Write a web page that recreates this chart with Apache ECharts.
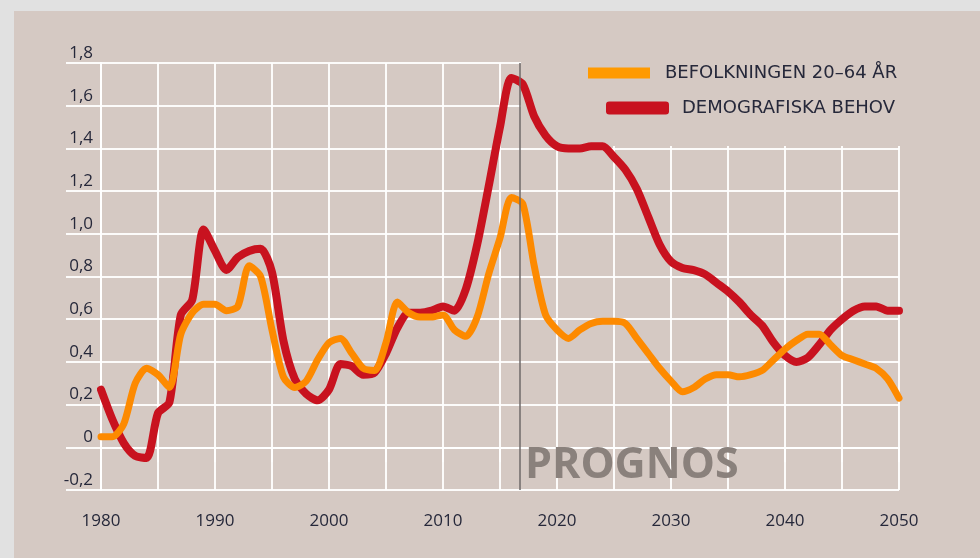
<!DOCTYPE html>
<html>
<head>
<meta charset="utf-8">
<script src="https://cdn.jsdelivr.net/npm/echarts@6/dist/echarts.min.js"></script>
<style>
  html, body { margin: 0; padding: 0; background: #e1e1e1; }
  #wrap { position: absolute; left: 0; top: 0; width: 980px; height: 558px; background: #e1e1e1; }
  #chart { position: absolute; left: 14px; top: 11px; width: 966px; height: 547px; background: #d5c9c3; }
</style>
</head>
<body>
<div id="wrap"><div id="chart"></div></div>
<script>
const years = [];
for (let y = 1980; y <= 2050; y++) years.push(y);

const seriesNames = ['BEFOLKNINGEN 20–64 ÅR', 'DEMOGRAFISKA BEHOV'];

const befolkning = [
  0.05, 0.05, 0.11, 0.30, 0.37, 0.34, 0.28, 0.53, 0.63, 0.67,
  0.67, 0.64, 0.66, 0.85, 0.80, 0.55, 0.33, 0.28, 0.31, 0.41,
  0.49, 0.51, 0.44, 0.37, 0.36, 0.49, 0.68, 0.63, 0.61, 0.61,
  0.62, 0.55, 0.52, 0.61, 0.81, 0.98, 1.17, 1.14, 0.85, 0.62,
  0.55, 0.51, 0.55, 0.58, 0.59, 0.59, 0.58, 0.51, 0.44, 0.37,
  0.31, 0.26, 0.28, 0.32, 0.34, 0.34, 0.33, 0.34, 0.36, 0.41,
  0.46, 0.50, 0.53, 0.53, 0.48, 0.43, 0.41, 0.39, 0.37, 0.32,
  0.23
];

const behov = [
  0.27, 0.13, 0.02, -0.04, -0.05, 0.16, 0.21, 0.62, 0.69, 1.02,
  0.92, 0.83, 0.89, 0.92, 0.93, 0.82, 0.50, 0.32, 0.25, 0.22,
  0.27, 0.39, 0.38, 0.34, 0.35, 0.44, 0.56, 0.63, 0.63, 0.64,
  0.66, 0.64, 0.74, 0.95, 1.22, 1.50, 1.73, 1.70, 1.55, 1.46,
  1.41, 1.40, 1.40, 1.41, 1.41, 1.36, 1.30, 1.21, 1.08, 0.95,
  0.87, 0.84, 0.83, 0.81, 0.77, 0.73, 0.68, 0.62, 0.57, 0.49,
  0.43, 0.40, 0.42, 0.48, 0.55, 0.60, 0.64, 0.66, 0.66, 0.64,
  0.64
];

const prognosYear = 2016.7;
const prognosLabel = 'PROGNOS';
const xLabelYears = [1980, 1990, 2000, 2010, 2020, 2030, 2040, 2050];

const panelColor = '#d5c9c3';
const gridColor = 'rgba(255,255,255,0.92)';
const textColor = '#26283a';
const orange = '#fd8a00';
const red = '#c8121f';

const chart = echarts.init(document.getElementById('chart'), null, { renderer: 'canvas' });

// chart div is offset by (14, 11) inside the page
const OX = 14, OY = 11;

chart.setOption({
  backgroundColor: panelColor,
  animation: false,
  grid: { left: 101 - OX, top: 63 - OY, width: 798, height: 427, containLabel: false },
  xAxis: {
    type: 'value', min: 1980, max: 2050, interval: 5,
    axisLine: { show: true, lineStyle: { color: gridColor, width: 2 } },
    axisTick: { show: true, length: 15, lineStyle: { color: gridColor, width: 2 } },
    splitLine: { show: true, lineStyle: { color: gridColor, width: 2 } },
    axisLabel: {
      margin: 23, color: textColor, fontFamily: 'Open Sans', fontSize: 17,
      formatter: v => (xLabelYears.indexOf(v) >= 0 ? String(v) : '')
    }
  },
  yAxis: {
    type: 'value', min: -0.2, max: 1.8, interval: 0.2,
    axisLine: { show: true, lineStyle: { color: gridColor, width: 2 } },
    axisTick: { show: true, length: 35, lineStyle: { color: gridColor, width: 2 } },
    splitLine: { show: true, lineStyle: { color: gridColor, width: 2 } },
    axisLabel: {
      margin: 8, color: textColor, fontFamily: 'Open Sans', fontSize: 17,
      verticalAlign: 'bottom', align: 'right', lineHeight: 20,
      formatter: v => {
        const r = Math.round(v * 10) / 10;
        if (r === 0) return '0';
        return r.toFixed(1).replace('.', ',');
      }
    }
  },
  legend: [
    {
      data: [seriesNames[0]], left: 588 - OX, top: 63 - OY, padding: 0,
      icon: 'rect', itemWidth: 62, itemHeight: 11,
      textStyle: { color: textColor, fontFamily: 'DejaVu Sans', fontSize: 18, lineHeight: 20, padding: [0, 0, 0, 10] }
    },
    {
      data: [seriesNames[1]], left: 606 - OX, top: 98 - OY, padding: 0,
      icon: 'roundRect', itemWidth: 63, itemHeight: 13,
      textStyle: { color: textColor, fontFamily: 'DejaVu Sans', fontSize: 18, lineHeight: 20, padding: [0, 0, 0, 8] }
    }
  ],
  graphic: [
    {
      type: 'rect', z: 1, silent: true,
      shape: { x: 521 - OX, y: 48 - OY, width: 390, height: 98 },
      style: { fill: panelColor }
    },
    {
      type: 'text', z: 3, silent: true,
      left: 525 - OX, top: 444 - OY,
      style: { text: prognosLabel, fill: '#8a817c', font: 'bold 43px "Open Sans"' }
    }
  ],
  series: [
    {
      name: seriesNames[1], type: 'line', z: 2,
      data: years.map((y, i) => [y, behov[i]]),
      showSymbol: false, smooth: 0.25,
      lineStyle: { color: red, width: 8, cap: 'round', join: 'round' },
      itemStyle: { color: red },
      markLine: {
        silent: true, symbol: ['none', 'none'], label: { show: false },
        lineStyle: { color: '#6e6868', width: 1.5, type: 'solid' },
        data: [[{ coord: [prognosYear, 1.8] }, { coord: [prognosYear, -0.2] }]]
      }
    },
    {
      name: seriesNames[0], type: 'line', z: 3,
      data: years.map((y, i) => [y, befolkning[i]]),
      showSymbol: false, smooth: 0.25,
      lineStyle: { color: orange, width: 7, cap: 'round', join: 'round' },
      itemStyle: { color: '#ff9a00' }
    }
  ]
});
</script>
</body>
</html>
